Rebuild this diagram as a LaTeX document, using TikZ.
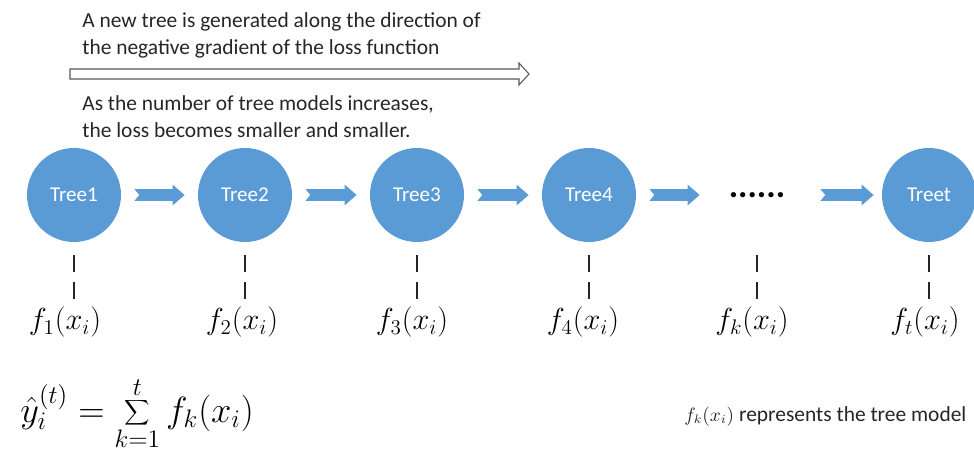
\documentclass[tikz,border=0pt]{standalone}
\usepackage[no-math]{fontspec}
\setmainfont{Carlito}
\usetikzlibrary{arrows.meta}

\definecolor{treeblue}{RGB}{91,155,213}
\definecolor{notegray}{RGB}{38,38,38}

\tikzset{
  tree/.style={circle, fill=treeblue, minimum size=1.88cm, inner sep=0pt,
    text=white, font=\fontsize{12}{14}\selectfont},
  dotsbox/.style={minimum size=1.88cm, inner sep=0pt,
    font=\fontsize{20}{20}\selectfont\bfseries},
  flow/.style={treeblue, line width=0.24cm,
    {Triangle Cap[reversed, length=0.1cm]}-{Triangle[length=0.24cm, width=0.4cm]},
    shorten <=0.26cm, shorten >=0.26cm},
  tick/.style={line width=0.7pt, black!85, dash pattern=on 0.34cm off 0.2cm,
    shorten <=0.26cm, shorten >=0.06cm},
  flabel/.style={inner sep=0pt, font=\fontsize{18}{20}\selectfont},
  note/.style={inner sep=0pt, align=left, text=notegray,
    font=\fontsize{12.2}{15.4}\selectfont},
}

\begin{document}
\begin{tikzpicture}[x=0.02cm, y=-0.02cm]
  \useasboundingbox (0,0) rectangle (974,466);

  % top notes and the hollow arrow
  \node[note, anchor=west] (goal) at (82,35) {A new tree is generated along the direction of\\the negative gradient of the loss function};
  \draw[gray!70!black, line width=0.6pt] (70,69) -- (519,69) -- (519,63) -- (529,74)
    -- (519,85) -- (519,79) -- (70,79) -- cycle;
  \node[note, anchor=west] (loss) at (82,117) {As the number of tree models increases,\\the loss becomes smaller and smaller.};

  % trees
  \node[tree] (t1) at (74,195) {Tree1};
  \node[tree] (t2) at (245,195) {Tree2};
  \node[tree] (t3) at (417,195) {Tree3};
  \node[tree] (t4) at (589,195) {Tree4};
  \node[dotsbox] (dots) at (757,195) {......};
  \node[tree] (tt) at (929,195) {Treet};

  \draw[flow] (t1) -- (t2);
  \draw[flow] (t2) -- (t3);
  \draw[flow] (t3) -- (t4);
  \draw[flow, shorten >=0.2cm] (t4) -- (dots);
  \draw[flow, shorten <=0.32cm, shorten >=0.16cm] (dots) -- (tt);

  % tree outputs
  \node[flabel] (f1) at (65,322) {$f_1(x_i)$};
  \node[flabel] (f2) at (242,322) {$f_2(x_i)$};
  \node[flabel] (f3) at (412,322) {$f_3(x_i)$};
  \node[flabel] (f4) at (583,322) {$f_4(x_i)$};
  \node[flabel] (fk) at (752,322) {$f_k(x_i)$};
  \node[flabel] (ft) at (925,322) {$f_t(x_i)$};

  \draw[tick] (t1.south) -- (t1.south |- f1.north);
  \draw[tick] (t2.south) -- (t2.south |- f2.north);
  \draw[tick] (t3.south) -- (t3.south |- f3.north);
  \draw[tick] (t4.south) -- (t4.south |- f4.north);
  \draw[tick] (dots.south) -- (dots.south |- fk.north);
  \draw[tick] (tt.south) -- (tt.south |- ft.north);

  % model sum
  \node[flabel, anchor=west, font=\fontsize{20}{24}\selectfont] (sum) at (20,414) {$\displaystyle \hat{y}_i^{(t)} = \sum_{k=1}^{t} f_k(x_i)$};
  \node[note, anchor=west] (legend) at (684,416) {{\fontsize{10.5}{12}\selectfont$f_k(x_i)$} represents the tree model};
\end{tikzpicture}
\end{document}
